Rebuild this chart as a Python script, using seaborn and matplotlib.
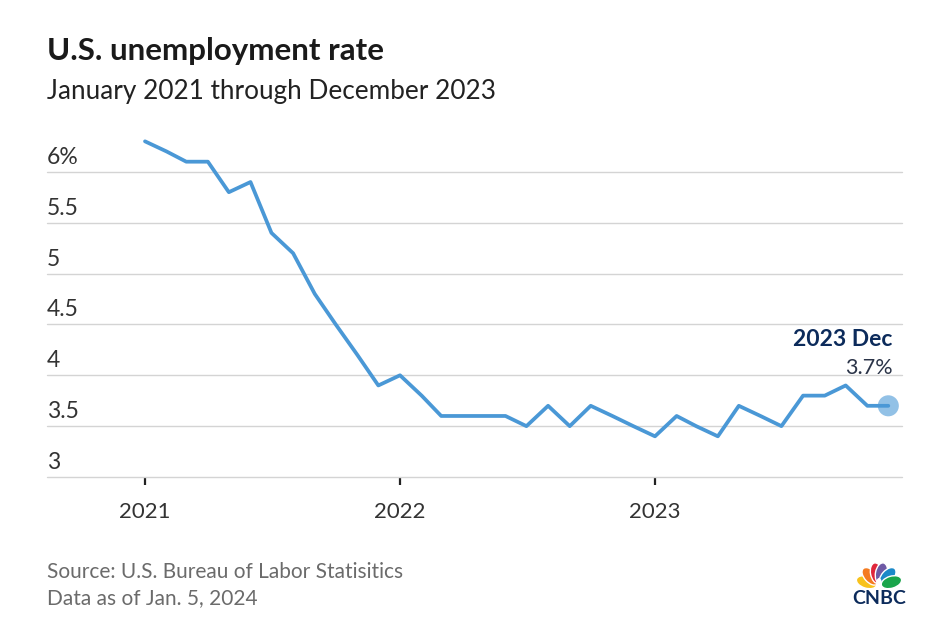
import numpy as np
import pandas as pd
import seaborn as sns
import matplotlib.pyplot as plt
import matplotlib.dates as mdates
from matplotlib.patches import Ellipse

sns.set_style("white")
plt.rcParams['font.family'] = ['Lato', 'DejaVu Sans']

# monthly unemployment rate, Jan 2021 - Dec 2023
months = pd.date_range("2021-01-01", periods=36, freq="MS")
rate_2021 = [6.3, 6.2, 6.1, 6.1, 5.8, 5.9, 5.4, 5.2, 4.8, 4.5, 4.2, 3.9]
rate_2022 = [4.0, 3.8, 3.6, 3.6, 3.6, 3.6, 3.5, 3.7, 3.5, 3.7, 3.6, 3.5]
rate_2023 = [3.4, 3.6, 3.5, 3.4, 3.7, 3.6, 3.5, 3.8, 3.8, 3.9, 3.7, 3.7]
y_ticks = [3, 3.5, 4, 4.5, 5, 5.5, 6]
y_labels = ["3", "3.5", "4", "4.5", "5", "5.5", "6%"]
x_ticks = ["2021-01-01", "2022-01-01", "2023-01-01"]
x_labels = ["2021", "2022", "2023"]

df = pd.DataFrame({"month": months, "rate": rate_2021 + rate_2022 + rate_2023})

W, H = 937, 631
fig = plt.figure(figsize=(W / 100, H / 100), dpi=100)

def px(x, y):
    return x / W, 1 - y / H

ax = fig.add_axes([47 / W, (H - 477) / H, (902 - 47) / W, (477 - 121) / H])

line_col = "#4a98d6"
sns.lineplot(data=df, x="month", y="rate", ax=ax, color=line_col, linewidth=2.7,
             solid_joinstyle="round", solid_capstyle="round")

last = df.iloc[-1]
ax.scatter([last["month"]], [last["rate"]], s=230, color=line_col, alpha=0.6,
           edgecolor="none", zorder=5, clip_on=False)

start = mdates.date2num(pd.Timestamp("2021-01-01"))
ax.set_xlim(start - 140.3, start + 1083.6)
ax.set_ylim(3, 6.5)
ax.set_yticks(y_ticks)
ax.set_yticklabels([])
ax.tick_params(axis="y", length=0, left=False)
ax.yaxis.grid(True, color="#d4d4d4", linewidth=1)
for gl in ax.get_ygridlines():
    gl.set_clip_on(False)
ax.xaxis.grid(False)
for s in ax.spines.values():
    s.set_visible(False)

ax.set_xticks([pd.Timestamp(t) for t in x_ticks])
ax.set_xticklabels(x_labels, fontsize=16, color="#333333")
ax.tick_params(axis="x", bottom=True, length=6, width=1.6, color="#222222", pad=12)
ax.set_xlabel("")
ax.set_ylabel("")

for v, lab in zip(y_ticks, y_labels):
    ax.annotate(lab, xy=(0, v), xycoords=("axes fraction", "data"),
                xytext=(0, 4), textcoords="offset pixels",
                ha="left", va="bottom", fontsize=16.5, color="#333333")

# end label
ax.annotate("2023 Dec", xy=(last["month"], last["rate"]), xytext=(4, 60),
            textcoords="offset pixels", ha="right", va="baseline",
            fontsize=16.5, fontweight="bold", color="#0c2b5b")
ax.annotate("3.7%", xy=(last["month"], last["rate"]), xytext=(4, 32),
            textcoords="offset pixels", ha="right", va="baseline",
            fontsize=15.5, color="#2b3448")

fig.text(*px(47, 60), "U.S. unemployment rate", fontsize=22.5, fontweight="bold",
         color="#1a1a1a", va="baseline")
fig.text(*px(47, 99), "January 2021 through December 2023", fontsize=18.8,
         color="#222222", va="baseline")
fig.text(*px(47, 578), "Source: U.S. Bureau of Labor Statisitics", fontsize=15,
         color="#6b6b6b", va="baseline")
fig.text(*px(47, 604), "Data as of Jan. 5, 2024", fontsize=15,
         color="#6b6b6b", va="baseline")

# CNBC peacock logo
lax = fig.add_axes([849 / W, 1 - 608 / H, 60 / W, 50 / H])
lax.set_xlim(-30, 30)
lax.set_ylim(-20, 30)
lax.axis("off")
feathers = [("#f8c21c", 163), ("#f47b20", 132), ("#e0263b", 101),
            ("#6e5aa5", 79), ("#1b89c8", 48), ("#1aa54b", 17)]
for col, ang in feathers:
    a = np.radians(ang)
    cx, cy = 13 * np.cos(a), 2 + 13 * np.sin(a)
    lax.add_patch(Ellipse((cx, cy), 21, 12, angle=ang, facecolor=col,
                          edgecolor="white", linewidth=1.0))
lax.add_patch(Ellipse((0, 4), 6, 12, facecolor="white", edgecolor="none"))
lax.text(0, -10, "CNBC", ha="center", va="center", fontsize=14,
         fontweight="bold", color="#0c2b5b")

fig.savefig("out.png", dpi=100)
